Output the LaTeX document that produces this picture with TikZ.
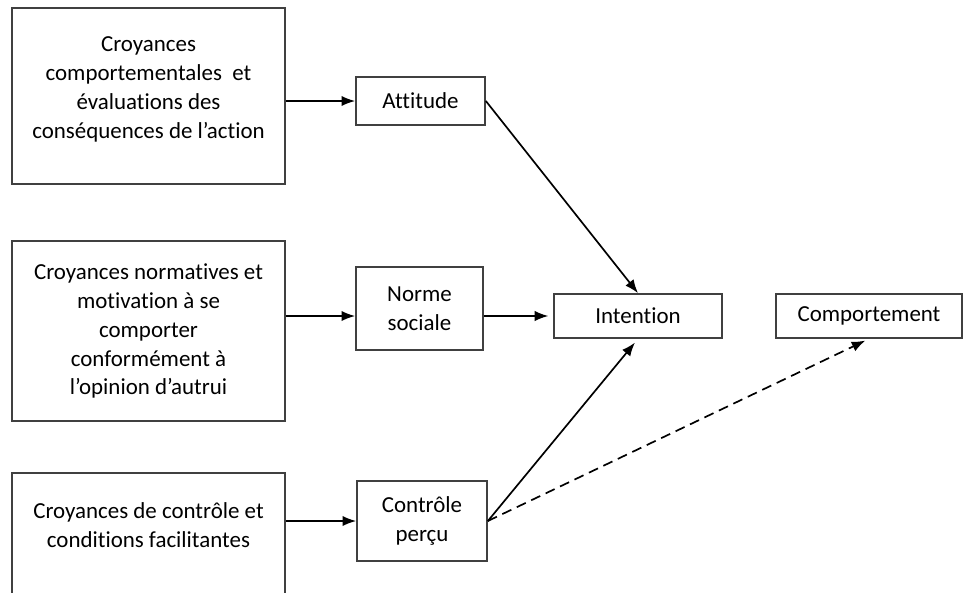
\documentclass[tikz,border=0pt]{standalone}
\usepackage{fontspec}
\setmainfont{Carlito}[Ligatures={TeX,NoCommon}]
\usetikzlibrary{arrows.meta}
\tikzset{
  boite/.style={draw=black!75,line width=1.2pt,align=center,inner sep=0pt},
  fleche/.style={-{Latex[length=3.4mm,width=2.6mm]},line width=1.2pt}
}

\begin{document}
\begin{tikzpicture}[x=0.025cm,y=-0.025cm,font=\fontsize{16.3}{20.6}\selectfont]
   \useasboundingbox (0,0) rectangle (963,593);
   % croyances
   \node[boite,minimum width=6.825cm,minimum height=4.4cm] (croycomp) at (148.5,96) {Croyances\\comportementales\ \ et\\évaluations des\\conséquences de l’action\\[-0.32cm]};
   \node[boite,minimum width=6.825cm,minimum height=4.5cm] (croynorm) at (148.5,331) {Croyances normatives et\\motivation à se\\comporter\\conformément à\\l’opinion d’autrui};
   \node[boite,minimum width=6.825cm,minimum height=4cm,anchor=north] (ctrlcadre) at (148.5,472) {};
   \node[align=center,inner sep=0pt] (croyctrl) at (148.5,525) {Croyances de contrôle et\\conditions facilitantes};
   % facteurs
   \node[boite,minimum width=3.225cm,minimum height=1.2cm] (attitude) at (420.5,101) {Attitude};
   \node[boite,minimum width=3.175cm,minimum height=2.075cm] (norme) at (419.5,308.5) {Norme\\sociale};
   \node[boite,minimum width=3.25cm,minimum height=2cm] (ctrlpercu) at (422,521) {Contrôle\\perçu};
   \node[boite,minimum width=4.2cm,minimum height=1.1cm] (intention) at (638,316) {Intention};
   \node[boite,minimum width=4.65cm,minimum height=1.1cm] (comport) at (869,316) {Comportement};
   % fleches
   \draw[fleche] (croycomp.east |- attitude) -- (attitude.west);
   \draw[fleche] (croynorm.east |- intention) -- (norme.west |- intention);
   \draw[fleche] (ctrlcadre.east |- ctrlpercu) -- (ctrlpercu.west);
   \draw[fleche,shorten >=0.12cm] (norme.east |- intention) -- (intention.west);
   \draw[fleche] (attitude.east) -- (intention.north);
   \draw[fleche,shorten >=0.12cm] (ctrlpercu.east) -- (intention.south);
   \draw[fleche,dashed,dash pattern=on 0.25cm off 0.15cm,shorten >=0.1cm] (ctrlpercu.east) -- (comport.south);
\end{tikzpicture}
\end{document}
